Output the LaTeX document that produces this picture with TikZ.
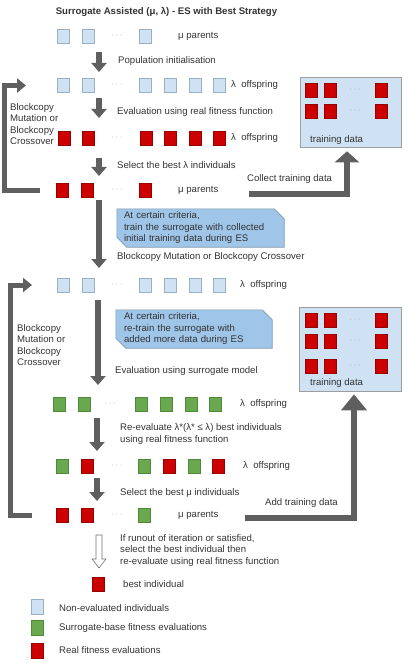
\documentclass[tikz,border=0pt]{standalone}
\usepackage{fontspec}
\setmainfont{Liberation Sans}
\usetikzlibrary{arrows.meta,backgrounds}

\definecolor{nonevfill}{HTML}{CFE2F3}
\definecolor{nonevline}{HTML}{9AAFC4}
\definecolor{realfill}{HTML}{CC0000}
\definecolor{realline}{HTML}{990000}
\definecolor{surfill}{HTML}{6AA84F}
\definecolor{surline}{HTML}{4E8A3A}
\definecolor{notefill}{HTML}{9FC5E8}
\definecolor{noteline}{HTML}{7F97AE}
\definecolor{boxline}{HTML}{9E9E9E}
\definecolor{arrgrey}{HTML}{5F5F5F}
\definecolor{dotgrey}{HTML}{9A9A9A}

\tikzset{
	indiv/.style={minimum width=12pt, minimum height=14pt, inner sep=0pt, line width=0.5pt},
	nonev/.style={indiv, fill=nonevfill, draw=nonevline},
	sureval/.style={indiv, fill=surfill, draw=surline},
	realev/.style={indiv, fill=realfill, draw=realline},
	dotsym/.style={text=dotgrey, inner sep=0pt, font=\fontsize{7}{7}\selectfont},
	txt/.style={anchor=west, inner sep=0pt, align=left, text=black!80},
	downarr/.style={draw=arrgrey, line width=5.5pt, -{Triangle[length=9pt,width=15pt]}},
	looparr/.style={draw=arrgrey, line width=5pt, -{Triangle[length=9pt,width=14pt]}},
	dataarr/.style={draw=arrgrey, line width=6pt},
	hollowarr/.style={draw=black!55, fill=white, line width=0.6pt},
	notebox/.style={minimum height=38pt, inner ysep=0pt, align=left, text=black!80},
	notebg/.style={draw=noteline, fill=notefill, line width=0.6pt},
	tdbox/.style={draw=boxline, fill=nonevfill, line width=0.6pt, inner sep=0pt},
}

\begin{document}
\begin{tikzpicture}[x=1pt, y=-1pt, font=\fontsize{9.6}{11.5}\selectfont]
	\useasboundingbox (0,0) rectangle (407,663);

	% Title
	\node[text=black!80] (title) at (166.5,12) {\textbf{Surrogate Assisted (μ, λ) - ES with Best Strategy}};

	% Row 1 -- mu parents
	\foreach \x [count=\i] in {63,88,145}
		\node[nonev] (pa\i) at (\x,36.5) {};
	\node[dotsym] (pad) at (117,36.5) {· · ·};
	\node[txt] (palbl) at (178,36.5) {μ parents};

	% Row 2 -- lambda offspring
	\foreach \x [count=\i] in {63,88,145,170,195,219}
		\node[nonev] (ob\i) at (\x,85.5) {};
	\node[dotsym] (obd) at (117,85.5) {· · ·};
	\node[txt] (oblbl) at (231,85.5) {λ~ offspring};

	% Row 3 -- evaluated offspring
	\foreach \x [count=\i] in {64,88,146,170,195,219}
		\node[realev] (oe\i) at (\x,138) {};
	\node[dotsym] (oed) at (117,138) {· · ·};
	\node[txt] (oelbl) at (231,138) {λ~ offspring};

	% Row 4 -- selected parents
	\foreach \x [count=\i] in {62.5,87,145}
		\node[realev] (ps\i) at (\x,190) {};
	\node[dotsym] (psd) at (117,190) {· · ·};
	\node[txt] (pslbl) at (178,190) {μ parents};

	% Row 5 -- new offspring
	\foreach \x [count=\i] in {63,88,145,170,195,219}
		\node[nonev] (nb\i) at (\x,285.5) {};
	\node[dotsym] (nbd) at (117,285.5) {· · ·};
	\node[txt] (nblbl) at (240,285.5) {λ~ offspring};

	% Row 6 -- surrogate evaluated
	\foreach \x [count=\i] in {59,84,141,166,191,215}
		\node[sureval] (ns\i) at (\x,404.5) {};
	\node[dotsym] (nsd) at (110,404.5) {· · ·};
	\node[txt] (nslbl) at (240,404.5) {λ~ offspring};

	% Row 7 -- re-evaluated
	\foreach \x/\s [count=\i] in {62.5/sureval,87.5/realev,144/sureval,169/realev,194/sureval,218/realev}
		\node[\s] (nr\i) at (\x,466.5) {};
	\node[dotsym] (nrd) at (117,466.5) {· · ·};
	\node[txt] (nrlbl) at (243,466.5) {λ~ offspring};

	% Row 8 -- mixed parents
	\foreach \x/\s [count=\i] in {62.5/realev,87/realev,144.5/sureval}
		\node[\s] (np\i) at (\x,515.5) {};
	\node[dotsym] (npd) at (117,515.5) {· · ·};
	\node[txt] (nplbl) at (178,515.5) {μ parents};

	% Best individual
	\node[realev] (best) at (98.5,584) {};
	\node[txt] (bestlbl) at (123,584) {best individual};

	% Step labels
	\node[txt] (s1) at (118,61) {Population initialisation};
	\node[txt] (s2) at (117,112) {Evaluation using real fitness function};
	\node[txt] (s3) at (117,165) {Select the best λ individuals};
	\node[txt] (s4) at (117,257) {Blockcopy Mutation or Blockcopy Crossover};
	\node[txt] (s5) at (115,371) {Evaluation using surrogate model};
	\node[txt] (s6) at (120,434) {Re-evaluate λ*(λ* ≤ λ) best individuals\\using real fitness function};
	\node[txt] (s7) at (120,493) {Select the best μ individuals};
	\node[txt] (s8) at (120,550.5) {If runout of iteration or satisfied,\\select the best individual then\\re-evaluate using real fitness function};
	\node[txt] (lp1lbl) at (10,124) {Blockcopy\\Mutation or\\Blockcopy\\Crossover};
	\node[txt] (lp2lbl) at (17,345) {Blockcopy\\Mutation or\\Blockcopy\\Crossover};

	% Notes
	\node[notebox, text width=153pt, inner xsep=7pt] (note1) at (200.5,228) {At certain criteria,\\train the surrogate with collected\\initial training data during ES};
	\node[notebox, text width=140pt, inner xsep=8pt] (note2) at (194,329) {At certain criteria,\\re-train the surrogate with\\added more data during ES};
	\begin{scope}[on background layer]
		\foreach \n in {note1,note2}
			\draw[notebg] (\n.north west) -- ([xshift=-10pt]\n.north east) -- ([yshift=-10pt]\n.north east)
				-- (\n.south east) -- ([xshift=10pt]\n.south west) -- ([yshift=10pt]\n.south west) -- cycle;
	\end{scope}

	% Training data boxes
	\node[tdbox, minimum width=101pt, minimum height=70pt] (td1) at (350.5,112) {};
	\foreach \y [count=\j] in {90.5,111} {
		\foreach \x [count=\i] in {311,330,381.5}
			\node[realev] (ta\j\i) at (\x,\y) {};
		\node[dotsym] (tad\j) at (355,\y) {· · ·};
	}
	\node[txt] (td1lbl) at (310,140) {training data};

	\node[tdbox, minimum width=102pt, minimum height=84pt] (td2) at (350,349) {};
	\foreach \y [count=\j] in {320.5,341.5,366} {
		\foreach \x [count=\i] in {311,330,381.5}
			\node[realev] (tb\j\i) at (\x,\y) {};
		\node[dotsym] (tbd\j) at (355,\y) {· · ·};
	}
	\node[txt] (td2lbl) at (310,383) {training data};

	% Down arrows
	\foreach \n/\x/\ya/\yb in {a1/99/52/72, a2/99/98/118, a3/99/158/176, a4/99/200/268, a5/98/300/385, a6/97/418/451, a7/97/478/501} {
		\coordinate (\n s) at (\x,\ya);
		\coordinate (\n e) at (\x,\yb);
		\draw[downarr] (\n s) -- (\n e);
	}

	% Final hollow arrow
	\coordinate (fin) at (99,535);
	\draw[hollowarr] (fin) ++(-3,0) -- ++(6,0) -- ++(0,24) -- ++(4,0) -- ++(-7,9) -- ++(-7,-9) -- ++(4,0) -- cycle;

	% Loop arrows
	\coordinate (lp1s) at (40,190);
	\coordinate (lp1e) at (26,85.5);
	\draw[looparr] (lp1s) -- ++(-35.5,0) |- (lp1e);
	\coordinate (lp2s) at (32,515.5);
	\coordinate (lp2e) at (32,285);
	\draw[looparr] (lp2s) -- ++(-21.5,0) |- (lp2e);

	% Training data arrows
	\coordinate (c1s) at (249,193.5);
	\draw[dataarr, -{Triangle[length=11pt,width=24pt]}] (c1s) -| ([xshift=-3.5pt,yshift=-4pt]td1.south);
	\node[txt] (c1lbl) at (247,179) {Collect training data};
	\coordinate (c2s) at (245,517.5);
	\draw[dataarr, -{Triangle[length=16pt,width=25pt]}] (c2s) -| ([xshift=4pt,yshift=-3pt]td2.south);
	\node[txt] (c2lbl) at (265,503) {Add training data};

	% Legend
	\node[nonev, minimum height=15pt] (lg1) at (37.5,606.5) {};
	\node[sureval, minimum height=15pt] (lg2) at (37.5,628) {};
	\node[realev, minimum height=15pt] (lg3) at (37.5,650.5) {};
	\node[txt] (lg1lbl) at (59,608) {Non-evaluated individuals};
	\node[txt] (lg2lbl) at (59,628) {Surrogate-base fitness evaluations};
	\node[txt] (lg3lbl) at (59,650) {Real fitness evaluations};
\end{tikzpicture}
\end{document}
